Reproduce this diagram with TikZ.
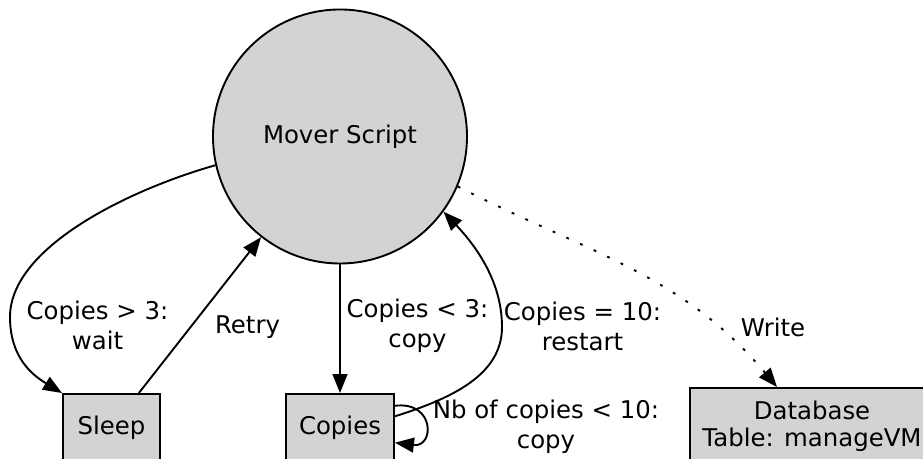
\documentclass[tikz,border=0pt]{standalone}
\usepackage{fontspec}
\setmainfont{DejaVu Sans}
\usetikzlibrary{arrows.meta}
\definecolor{boxgray}{HTML}{D3D3D3}

\begin{document}
\begin{tikzpicture}[
    x=0.5pt, y=0.5pt, % one unit is half a point
    font=\fontsize{12.2}{15}\selectfont,
    line width=0.95pt,
    >={Triangle[length=9.5pt,width=7.4pt]},
    script/.style={circle,draw,fill=boxgray,minimum size=127pt,inner sep=0pt},
    state/.style={rectangle,draw,fill=boxgray,minimum height=34pt,inner sep=0pt,align=center},
    lbl/.style={align=center,inner sep=0pt},
    write/.style={->,dash pattern=on 1.4pt off 6.1pt}
]
    \useasboundingbox (0,0) rectangle (923,459);
    \clip (0,0) rectangle (923,459);

    % Nodes
    \node[script] (mover) at (340,322.5) {Mover Script};
    \node[state, minimum width=48.5pt] (sleep) at (111.5,31) {Sleep};
    \node[state, minimum width=54pt] (copies) at (340,31) {Copies};
    \node[state, minimum width=122pt, minimum height=38pt] (database) at (812,33)
        {Database\\[-1.5pt]Table: manageVM};

    % Edge labels
    \node[lbl] (waitlbl) at (97.5,134) {Copies > 3:\\wait};
    \node[lbl] (retrylbl) at (247.5,132) {Retry};
    \node[lbl] (copylbl) at (417.5,133) {Copies < 3:\\copy};
    \node[lbl] (restartlbl) at (582.5,133) {Copies = 10:\\restart};
    \node[lbl] (looplbl) at (546,32) {Nb of copies < 10:\\copy};
    \node[lbl] (writelbl) at (773,132) {Write};

    % Edges
    \draw[->] (mover.193) .. controls +(-85,-24) and +(0,70) .. (10,142)
        .. controls +(0,-42) and +(-28,17) .. (sleep.north west);
    \draw[->] (sleep) -- (mover);
    \draw[->] (mover) -- (copies);
    \draw[->] (copies.12) .. controls +(57,18) and +(0,-48) .. (502,132)
        .. controls +(0,45) and +(33,-35) .. (mover.-36.5);
    \draw[->] (copies.22) .. controls +(40,5) and +(40,-5) .. (copies.-15);
    \draw[write] (mover.-23) to[out=-27,in=130] ([xshift=-17.5pt]database.north);
\end{tikzpicture}
\end{document}
